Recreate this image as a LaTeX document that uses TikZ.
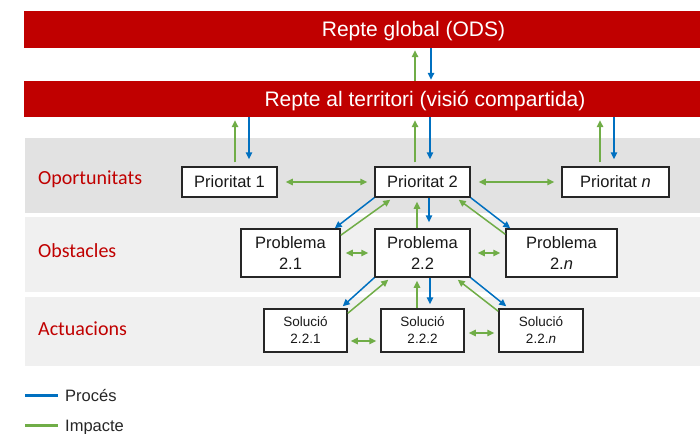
\documentclass[tikz,border=0pt]{standalone}
\usepackage{fontspec}
\setmainfont{Liberation Sans}
\newfontfamily\bandfont{Carlito}
\usetikzlibrary{arrows.meta,positioning}
\definecolor{repteRed}{RGB}{192,0,0}
\definecolor{procBlue}{RGB}{0,112,192}
\definecolor{impGreen}{RGB}{112,173,71}
\definecolor{bandDark}{RGB}{226,226,226}
\definecolor{bandLight}{RGB}{240,240,240}
\tikzset{
    %Define standard arrow tip
    >={Triangle[length=7pt,width=6.5pt]},
    %Define style for bars and boxes
    bar/.style={
           fill=repteRed,
           minimum width=676pt,
           minimum height=37pt,
           inner sep=0pt},
    bartext/.style={
           text=white,
           anchor=base,
           font=\fontsize{21}{25}\selectfont},
    bandlabel/.style={
           text=repteRed,
           anchor=base west,
           inner sep=0pt,
           font=\bandfont\fontsize{20}{24}\selectfont},
    prio/.style={
           draw=black!85, line width=1.5pt,
           fill=white,
           inner sep=0pt,
           minimum width=95pt,
           minimum height=30pt,
           text=black!90,
           font=\fontsize{16.5}{19}\selectfont},
    prob/.style={
           prio,
           align=center,
           minimum height=48pt,
           font=\fontsize{16.5}{21}\selectfont},
    sol/.style={
           prio,
           align=center,
           minimum width=83pt,
           minimum height=43pt,
           font=\fontsize{13.5}{17}\selectfont},
    legend/.style={
           anchor=base west,
           inner sep=0pt,
           text=black!85,
           font=\fontsize{16.5}{19}\selectfont},
    % Define arrow styles
    proces/.style={->, draw=procBlue, line width=1.5pt},
    impacte/.style={->, draw=impGreen, line width=1.5pt}
}

\begin{document}
\begin{tikzpicture}[x=1pt,y=-1pt]

\useasboundingbox (0,0) rectangle (700,433);

 %bands
\fill[bandDark] (25,138) rectangle (700,213);
\fill[bandLight] (25,217) rectangle (700,292);
\fill[bandLight] (25,297) rectangle (700,366);

 %nodes
\node[bar](global) at (362,29.5){};
\node[bartext] at ([xshift=51.5pt,yshift=-7.5pt]global.center){Repte global (ODS)};
\node[bar, minimum height=36pt](local) at (362,99){};
\node[bartext] at ([xshift=63pt,yshift=-7.5pt]local.center){Repte al territori (visió compartida)};

\node[bandlabel](opor) at (38,184){Oportunitats};
\node[bandlabel](obst) at (38,257){Obstacles};
\node[bandlabel](actu) at (38,335){Actuacions};

\node[prio](p1) at (229.5,182){Prioritat 1};
\node[prio](p2) at (422.5,182){Prioritat 2};
\node[prio, minimum width=107pt](pn) at (615.5,182){Prioritat \textit{n}};

\node[prob, minimum width=99pt](pb1) at (290.5,253){Problema\\2.1};
\node[prob](pb2) at (422.5,253){Problema\\2.2};
\node[prob, minimum width=111pt](pbn) at (561.5,253){Problema\\2.\textit{n}};

\node[sol](s1) at (305.5,330.5){Solució\\2.2.1};
\node[sol](s2) at (422.5,330.5){Solució\\2.2.2};
\node[sol, minimum width=84pt](sn) at (541,330.5){Solució\\2.2.\textit{n}};

\node[legend](lproc) at (65,401){Procés};
\node[legend, below=30pt of lproc.base west, anchor=base west](limp){Impacte};

 %edges
\draw[impacte, shorten >=2pt] ([xshift=53pt]global.south |- local.north) -- ([xshift=53pt]global.south);
\draw[proces, shorten >=1pt] ([xshift=69pt]global.south) -- ([xshift=69pt]global.south |- local.north);

\foreach \p/\g/\b in {p1/5.5/19.5, p2/-7.5/7.5, pn/-15.5/-1.5}{
  \draw[impacte, shorten <=4pt, shorten >=3pt] ([xshift=\g pt]\p.north) -- ([xshift=\g pt]\p.north |- local.south);
  \draw[proces, shorten >=7pt] ([xshift=\b pt]\p.north |- local.south) -- ([xshift=\b pt]\p.north);
}

\draw[impacte, <->, shorten <=8pt, shorten >=7pt] (p1) -- (p2);
\draw[impacte, <->, shorten <=8pt, shorten >=7pt] (p2) -- (pn);
\draw[impacte, <->, shorten <=5pt, shorten >=6pt] (pb1) -- (pb2);
\draw[impacte, <->, shorten <=7pt, shorten >=5pt] (pb2) -- (pbn);
\draw[impacte, <->, shorten <=3pt, shorten >=4pt] ([yshift=-10.5pt]s1.east) -- ([yshift=-10.5pt]s2.west);
\draw[impacte, <->, shorten <=4pt, shorten >=4pt] ([yshift=-2.5pt]s2.east) -- ([yshift=-2.5pt]sn.west);

\draw[impacte, shorten >=4pt] ([xshift=-5.5pt]pb2.north) -- ([xshift=-5.5pt]p2.south);
\draw[proces, shorten >=6pt] ([xshift=6.5pt]p2.south) -- ([xshift=6.5pt]pb2.north);
\draw[impacte, shorten >=3pt] ([xshift=-5.5pt]s2.north) -- ([xshift=-5.5pt]pb2.south);
\draw[proces, shorten >=4pt] ([xshift=7.5pt]pb2.south) -- ([xshift=7.5pt]s2.north);

\draw[proces] (p2.south west) -- ([xshift=-6pt]pb1.north east);
\draw[impacte] ([yshift=-7pt]pb1.north east) -- ([xshift=16pt,yshift=-2pt]p2.south west);
\draw[proces] (p2.south east) -- ([xshift=5pt]pbn.north west);
\draw[impacte] ([yshift=-6pt]pbn.north west) -- ([xshift=-12pt,yshift=-2pt]p2.south east);

\draw[proces] (pb2.south west) -- ([xshift=-5pt,yshift=2pt]s1.north east);
\draw[impacte] ([yshift=-5pt]s1.north east) -- ([xshift=14pt,yshift=-2pt]pb2.south west);
\draw[proces] (pb2.south east) -- ([xshift=8pt,yshift=2pt]sn.north west);
\draw[impacte] ([yshift=-3pt]sn.north west) -- ([xshift=-13pt,yshift=-2pt]pb2.south east);

 %legend
\draw[procBlue, line width=3pt] ([xshift=-40pt,yshift=6pt]lproc.base west) -- ([xshift=-7pt,yshift=6pt]lproc.base west);
\draw[impGreen, line width=3pt] ([xshift=-40pt,yshift=6pt]limp.base west) -- ([xshift=-7pt,yshift=6pt]limp.base west);

\end{tikzpicture}
\end{document}
